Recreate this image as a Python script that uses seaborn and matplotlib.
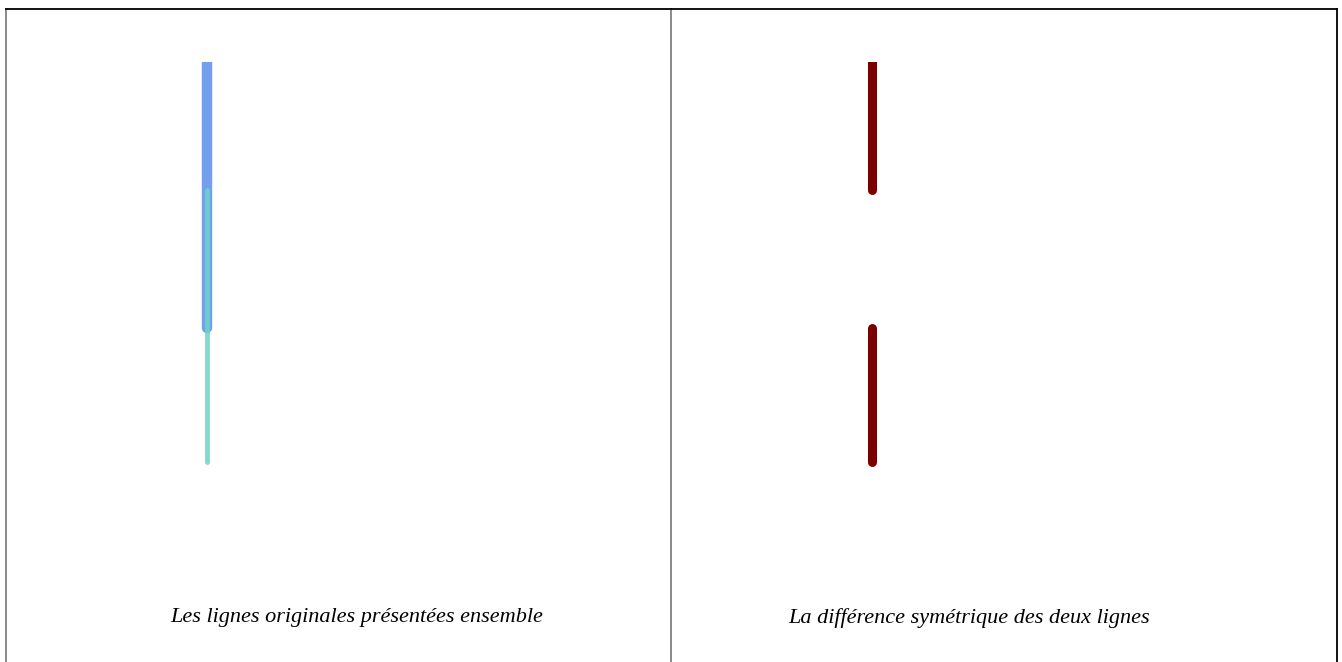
import numpy as np
import matplotlib.pyplot as plt
import matplotlib as mpl
import seaborn as sns
import pandas as pd
from matplotlib.patches import Rectangle

sns.set_style('white')
mpl.rc('font', family=['Liberation Serif', 'DejaVu Serif'])

# Line coordinates (map units, y grows upward)
line_a_x = [3.02, 3.02]
line_a_y = [9.19, 5.11]
line_b_x = [3.02, 3.02]
line_b_y = [7.23, 3.06]

# Symmetric difference of the two lines
diff_x = [[3.02, 3.02], [3.02, 3.02]]
diff_y = [[9.19, 7.23], [5.11, 3.06]]

captions = ['Les lignes originales présentées ensemble',
            'La différence symétrique des deux lignes']


W, H = 1342, 662
fig = plt.figure(figsize=(W / 100, H / 100), dpi=100)

ax1 = fig.add_axes([6 / W, 0, 665 / W, (H - 9) / H])
ax2 = fig.add_axes([671 / W, 0, 666 / W, (H - 9) / H])

for ax in (ax1, ax2):
    ax.set_xlim(0, 10)
    ax.set_ylim(0, 10)
    ax.spines['bottom'].set_visible(False)
    ax.spines['top'].set_color('black')
    ax.spines['top'].set_linewidth(1.3)
    ax.spines['left'].set_color('#777777')
    ax.spines['left'].set_linewidth(1.2)
    ax.spines['right'].set_visible(False)
ax2.spines['right'].set_visible(True)
ax2.spines['right'].set_color('black')
ax2.spines['right'].set_linewidth(1.3)

df_a = pd.DataFrame({'x': line_a_x, 'y': line_a_y})
df_b = pd.DataFrame({'x': line_b_x, 'y': line_b_y})
sns.lineplot(data=df_a, x='x', y='y', sort=False, estimator=None, ax=ax1,
             color='cornflowerblue', linewidth=7.5, alpha=0.9, solid_capstyle='round')
sns.lineplot(data=df_b, x='x', y='y', sort=False, estimator=None, ax=ax1,
             color='#6fd3c4', linewidth=3.5, alpha=0.85, solid_capstyle='round')

for xs, ys in zip(diff_x, diff_y):
    df = pd.DataFrame({'x': xs, 'y': ys})
    sns.lineplot(data=df, x='x', y='y', sort=False, estimator=None, ax=ax2,
                 color='#7a0000', linewidth=6.5, solid_capstyle='round')

# the view is cut off at the northern end of the lines
top = max(line_a_y)
for ax in (ax1, ax2):
    clip = Rectangle((0, 0), 10, top, transform=ax.transData)
    for ln in ax.lines:
        ln.set_clip_path(clip)
    ax.set_xlabel('')
    ax.set_ylabel('')
    ax.set_xticks([])
    ax.set_yticks([])

ax1.text(5.28, 0.68, captions[0], ha='center', va='center', style='italic',
         fontsize=16, color='black')
ax2.text(4.48, 0.68, captions[1], ha='center', va='center', style='italic',
         fontsize=16, color='black')

fig.savefig('out.png', dpi=100)
